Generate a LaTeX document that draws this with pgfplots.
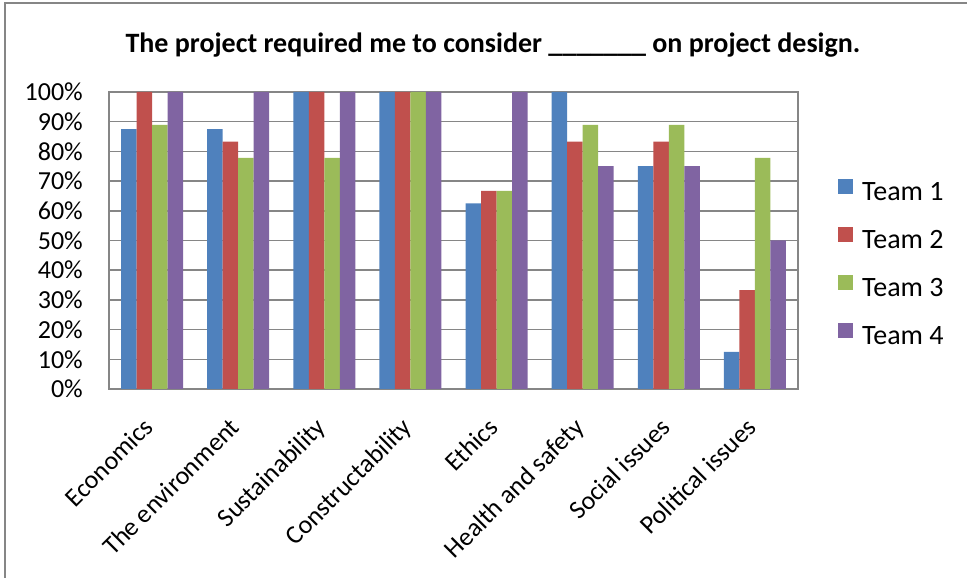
\documentclass[border=0pt]{standalone}
\usepackage{pgfplots}
\pgfplotsset{compat=1.18}
\usepackage{fontspec}
\setmainfont{Carlito}
\definecolor{c1}{HTML}{4F81BD}
\definecolor{c2}{HTML}{C0504D}
\definecolor{c3}{HTML}{9BBB59}
\definecolor{c4}{HTML}{8064A2}
\definecolor{gridgray}{HTML}{868686}
\begin{document}
\begin{tikzpicture}[x=1pt,y=1pt]
\useasboundingbox (0,0) rectangle (967,578);
\draw[gridgray, line width=1.5pt] (5,0) -- (5,575) -- (967,575);
\node[font=\bfseries\fontsize{28}{32}\selectfont] at (493,533) {The project required me to consider \_\_\_\_\_\_\_ on project design.};
\begin{axis}[
  at={(109pt,189pt)}, anchor=south west,
  width=689pt, height=297pt, scale only axis,
  ybar=0pt, bar width=15.5pt,
  xmin=-0.5, xmax=7.5, ymin=0, ymax=100,
  xtick={0,...,7},
  xticklabels={Economics,The environment,Sustainability,Constructability,Ethics,Health and safety,Social issues,Political issues},
  ytick={0,10,...,100},
  yticklabel={\pgfmathprintnumber{\tick}\%},
  /pgf/number format/assume math mode=true,
  ymajorgrids,
  grid style={draw=gridgray, line width=1.5pt},
  axis line style={draw=gridgray, line width=1.5pt},
  major tick length=0pt,
  yticklabel style={font=\fontsize{26}{30}\selectfont, anchor=east, inner sep=0pt, xshift=-26pt},
  xticklabel style={font=\fontsize{26}{30}\selectfont, xshift=-10pt, yshift=-27pt, rotate=45, anchor=north east, inner sep=0pt},
  legend style={at={(1.058,0.418)}, anchor=west, draw=none, fill=none, inner sep=0pt,
    font=\fontsize{28}{32}\selectfont, row sep=21pt,
    nodes={inner sep=0pt, text height=18pt, text depth=6pt},
    /tikz/every odd column/.append style={column sep=9pt}},
  legend cell align=left,
  legend image code/.code={\fill[#1] (0pt,0pt) rectangle (15pt,15pt);},
]
\addplot[fill=c1, draw=none] coordinates {(0,87.5) (1,87.5) (2,100) (3,100) (4,62.5) (5,100) (6,75) (7,12.5)};
\addplot[fill=c2, draw=none] coordinates {(0,100) (1,83.3) (2,100) (3,100) (4,66.7) (5,83.3) (6,83.3) (7,33.3)};
\addplot[fill=c3, draw=none] coordinates {(0,88.9) (1,77.8) (2,77.8) (3,100) (4,66.7) (5,88.9) (6,88.9) (7,77.8)};
\addplot[fill=c4, draw=none] coordinates {(0,100) (1,100) (2,100) (3,100) (4,100) (5,75) (6,75) (7,50)};
\legend{Team 1,Team 2,Team 3,Team 4}
\end{axis}
\end{tikzpicture}
\end{document}
